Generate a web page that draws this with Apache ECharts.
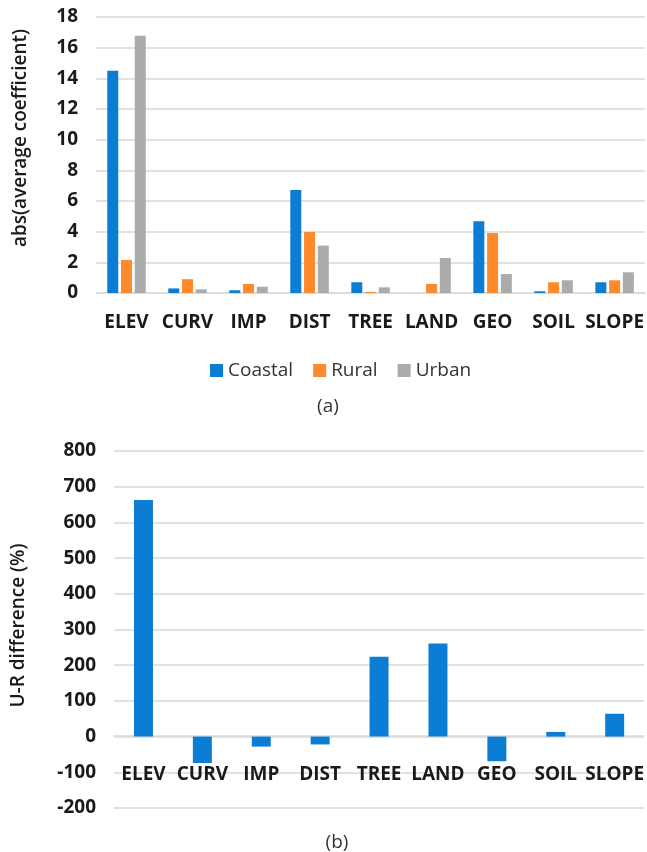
<!DOCTYPE html>
<html>
<head>
<meta charset="utf-8">
<script src="https://cdn.jsdelivr.net/npm/echarts@6/dist/echarts.min.js"></script>
<style>
html,body{margin:0;padding:0;background:#fff;}
#c{width:647px;height:852px;}
</style>
</head>
<body>
<div id="c"></div>
<script>
// Data
var categories = ['ELEV', 'CURV', 'IMP', 'DIST', 'TREE', 'LAND', 'GEO', 'SOIL', 'SLOPE'];
var coastal = [14.5, 0.3, 0.18, 6.72, 0.7, 0, 4.68, 0.11, 0.7];
var rural   = [2.15, 0.9, 0.59, 3.98, 0.07, 0.59, 3.91, 0.7, 0.83];
var urban   = [16.78, 0.24, 0.41, 3.09, 0.37, 2.28, 1.24, 0.83, 1.35];
var urDiff  = [663, -74, -28, -22, 224, 261, -69, 13, 64];
var seriesNames = ['Coastal', 'Rural', 'Urban'];
var yNameA = 'abs(average coefficient)';
var yNameB = 'U-R difference (%)';

var FONT = "'Open Sans', 'Noto Sans', sans-serif";
var C_BLUE = '#0b7dd4', C_ORANGE = '#ff8a2c', C_GRAY = '#ababab', GRID = '#d9d9d9';
var txt = '#1a1a1a';

var chart = echarts.init(document.getElementById('c'), null, {renderer: 'canvas'});

function yAxisCommon(min, max, interval, name, gap, pad) {
  return {
    type: 'value', min: min, max: max, interval: interval,
    name: name, nameLocation: 'middle', nameGap: gap, nameRotate: 90,
    nameTextStyle: {fontFamily: FONT, fontSize: 19, color: txt, fontWeight: 600, padding: pad},
    axisLine: {show: false}, axisTick: {show: false},
    axisLabel: {fontFamily: FONT, fontSize: 19, color: txt, fontWeight: 'bold', margin: 18},
    splitLine: {lineStyle: {color: GRID, width: 1.5}}
  };
}
function xAxisCommon(gridIndex, margin, offset) {
  return {
    type: 'category', data: categories, gridIndex: gridIndex,
    position: 'bottom', offset: offset,
    axisLine: {onZero: false, lineStyle: {color: GRID, width: 1.5}},
    axisTick: {show: false},
    axisLabel: {fontFamily: FONT, fontSize: 19, color: txt, fontWeight: 'bold', margin: margin, interval: 0}
  };
}

var ya = yAxisCommon(0, 18, 2, yNameA, 66, [0, 0, 0, 34]);
ya.gridIndex = 0;
var yb = yAxisCommon(-200, 800, 100, yNameB, 86, [0, 0, 0, 8]);
yb.gridIndex = 1;

chart.setOption({
  animation: false,
  backgroundColor: '#fff',
  grid: [
    {left: 96, right: 1, top: 17, height: 276},
    {left: 114, right: 1, top: 451, height: 357}
  ],
  legend: {
    data: seriesNames, left: 205, top: 356,
    itemWidth: 13, itemHeight: 13, itemGap: 20, icon: 'rect',
    textStyle: {fontFamily: FONT, fontSize: 19, color: '#333', padding: [0, 0, 0, 0]}
  },
  title: [
    {text: '(a)', left: 323, top: 392, textAlign: 'center',
     textStyle: {fontFamily: FONT, fontSize: 19, fontWeight: 'normal', color: '#333'}},
    {text: '(b)', left: 332, top: 828, textAlign: 'center',
     textStyle: {fontFamily: FONT, fontSize: 19, fontWeight: 'normal', color: '#333'}}
  ],
  xAxis: [xAxisCommon(0, 20, 0), xAxisCommon(1, 29, -72)],
  yAxis: [ya, yb],
  series: [
    {name: 'Coastal', type: 'bar', xAxisIndex: 0, yAxisIndex: 0, data: coastal,
     barWidth: 11, barGap: '25%', itemStyle: {color: C_BLUE}},
    {name: 'Rural', type: 'bar', xAxisIndex: 0, yAxisIndex: 0, data: rural,
     barWidth: 11, barGap: '25%', itemStyle: {color: C_ORANGE}},
    {name: 'Urban', type: 'bar', xAxisIndex: 0, yAxisIndex: 0, data: urban,
     barWidth: 11, barGap: '25%', itemStyle: {color: C_GRAY}},
    {name: 'U-R', type: 'bar', xAxisIndex: 1, yAxisIndex: 1, data: urDiff,
     barWidth: 19, itemStyle: {color: C_BLUE}}
  ]
});
</script>
</body>
</html>
